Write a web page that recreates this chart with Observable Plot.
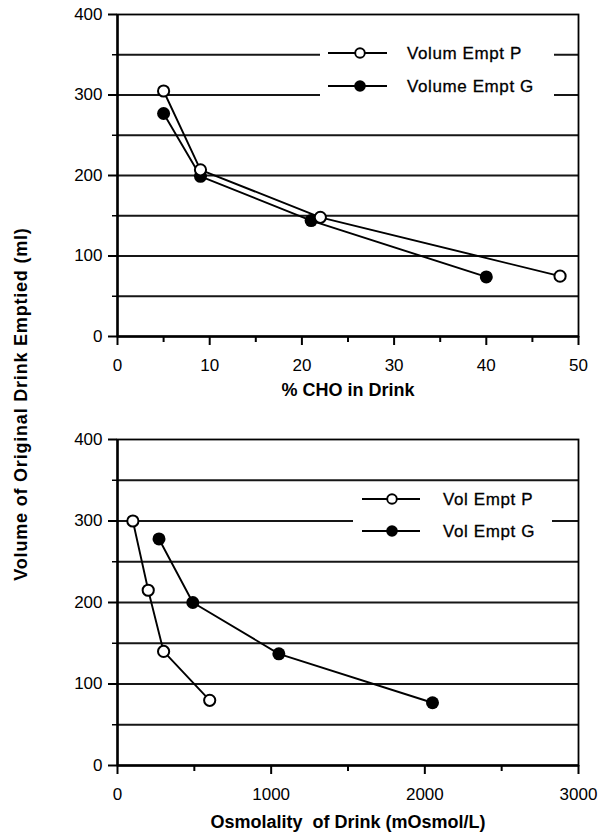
<!DOCTYPE html>
<html>
<head>
<meta charset="utf-8">
<script src="https://cdn.jsdelivr.net/npm/d3@7"></script>
<script src="https://cdn.jsdelivr.net/npm/@observablehq/plot@0.6"></script>
<style>
  html, body { margin: 0; padding: 0; background: white; }
  #chart { position: relative; width: 606px; height: 839px; font-family: "Liberation Sans", Arial, sans-serif; color: black; }
  #chart svg { display: block; }
  #ytitle {
    position: absolute; left: 21px; top: 404px; white-space: nowrap;
    transform: translate(-50%, -50%) rotate(-90deg);
    font-weight: bold; font-size: 18px; letter-spacing: 0.8px;
  }
</style>
</head>
<body>
<div id="chart">
  <div id="top"></div>
  <div id="bottom"></div>
  <div id="ytitle">Volume of Original Drink Emptied (ml)</div>
</div>
<script>
// Upper panel: carbohydrate concentration of the drink
const choPolymer = [5, 9, 22, 48];
const volPolymer = [305, 207, 148, 75];
const choGlucose = [5, 9, 21, 40];
const volGlucose = [277, 199, 144, 74];

// Lower panel: osmolality of the drink
const osmPolymer = [100, 200, 300, 600];
const osmVolPolymer = [300, 215, 140, 80];
const osmGlucose = [270, 490, 1050, 2050];
const osmVolGlucose = [278, 200, 137, 77];

const legendTop = ["Volum Empt P", "Volume Empt G"];
const legendBottom = ["Vol Empt P", "Vol Empt G"];

const yMajor = [0, 100, 200, 300, 400];
const yMinor = [50, 150, 250, 350];
const yGrid = [50, 100, 150, 200, 250, 300, 350];

const choMajor = [0, 10, 20, 30, 40, 50];
const choMinor = [5, 15, 25, 35, 45];
const osmMajor = [0, 1000, 2000, 3000];
const osmMinor = [500, 1500, 2500];

const toRows = (xs, ys) => xs.map((x, i) => ({x, y: ys[i]}));

// Legend drawn in pixel space: a white box hides the grid behind it
function legendMark(labels, o) {
  return () => {
    const g = d3.create("svg:g");
    g.append("rect")
      .attr("x", o.x0).attr("y", o.y0)
      .attr("width", o.x1 - o.x0).attr("height", o.y1 - o.y0)
      .attr("fill", "white").attr("stroke", "none")
      .style("fill", "white");
    labels.forEach((label, i) => {
      const cy = o.row0 + i * o.step;
      g.append("line").attr("x1", o.lineX0).attr("x2", o.lineX1).attr("y1", cy).attr("y2", cy)
        .attr("stroke", "black").attr("stroke-width", 2);
      if (i === 0) {
        g.append("circle").attr("cx", o.dotX).attr("cy", cy).attr("r", 4.8)
          .attr("fill", "white").attr("stroke", "black").attr("stroke-width", 1.9);
      } else {
        g.append("circle").attr("cx", o.dotX).attr("cy", cy).attr("r", 5.8).attr("fill", "black");
      }
      g.append("text").attr("x", o.textX).attr("y", cy).attr("dy", "0.35em")
        .attr("text-anchor", "start")
        .attr("font-size", 17).attr("letter-spacing", "0.6px")
        .attr("fill", "black").attr("stroke", "black").attr("stroke-width", 0.3)
        .text(label);
    });
    return g.node();
  };
}

function panel({xDomain, xMajor, xMinor, xLabel, labelDy, polymer, glucose, legend, marginTop, height}) {
  return Plot.plot({
    width: 606,
    height,
    marginTop,
    marginBottom: 74,
    marginLeft: 117,
    marginRight: 28,
    x: {domain: xDomain, axis: null},
    y: {domain: [0, 400], axis: null},
    style: {fontFamily: "'Liberation Sans', Arial, sans-serif", fontSize: "17px", color: "black", background: "white", overflow: "visible"},
    marks: [
      Plot.ruleY(yGrid, {stroke: "#161616", strokeWidth: 1.9}),
      legend,
      Plot.frame({stroke: "black", strokeWidth: 1.8}),
      Plot.ruleX([xDomain[0]], {stroke: "black", strokeWidth: 2.4}),
      Plot.ruleY([0], {stroke: "black", strokeWidth: 2.4}),
      Plot.axisY(yMajor, {label: null, tickSize: 9, tickPadding: 6, strokeWidth: 2, tickFormat: d => String(d), style: {letterSpacing: "0.8px", stroke: "black", strokeWidth: 0.3}}),
      Plot.axisY(yMinor, {label: null, tickSize: 5, strokeWidth: 1.5, tickFormat: () => ""}),
      Plot.axisX(xMajor, {label: null, tickSize: 9, tickPadding: 13, strokeWidth: 2, tickFormat: d => String(d), style: {letterSpacing: "0.8px", stroke: "black", strokeWidth: 0.3}}),
      Plot.axisX(xMinor, {label: null, tickSize: 6, strokeWidth: 2, tickFormat: () => ""}),
      Plot.text([xLabel], {frameAnchor: "bottom", dy: labelDy, lineAnchor: "middle", text: d => d, fontWeight: "bold", fontSize: 18, fill: "black", style: {letterSpacing: "0.8px"}}),
      Plot.line(polymer, {x: "x", y: "y", stroke: "black", strokeWidth: 1.9}),
      Plot.line(glucose, {x: "x", y: "y", stroke: "black", strokeWidth: 1.9}),
      Plot.dot(glucose, {x: "x", y: "y", r: 6.5, fill: "black"}),
      Plot.dot(polymer, {x: "x", y: "y", r: 5.6, fill: "white", stroke: "black", strokeWidth: 2})
    ]
  });
}

document.getElementById("top").append(panel({
  xDomain: [0, 50], xMajor: choMajor, xMinor: choMinor,
  xLabel: "% CHO in Drink", labelDy: 54,
  polymer: toRows(choPolymer, volPolymer),
  glucose: toRows(choGlucose, volGlucose),
  legend: legendMark(legendTop, {x0: 320, x1: 554, y0: 22, y1: 120, row0: 53, step: 33, lineX0: 328, lineX1: 387, dotX: 360, textX: 407}),
  marginTop: 14, height: 410
}));

document.getElementById("bottom").append(panel({
  xDomain: [0, 3000], xMajor: osmMajor, xMinor: osmMinor,
  xLabel: "Osmolality  of Drink (mOsmol/L)", labelDy: 57,
  polymer: toRows(osmPolymer, osmVolPolymer),
  glucose: toRows(osmGlucose, osmVolGlucose),
  legend: legendMark(legendBottom, {x0: 353, x1: 552, y0: 76, y1: 136, row0: 89, step: 32, lineX0: 362, lineX1: 420, dotX: 392, textX: 443}),
  marginTop: 29, height: 429
}));
</script>
</body>
</html>
